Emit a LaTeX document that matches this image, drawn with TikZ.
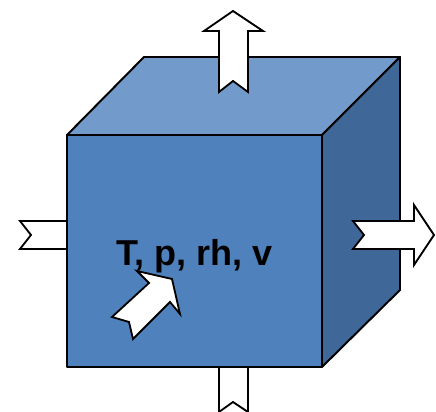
\documentclass[tikz,border=0pt]{standalone}
\usepackage{fontspec}
\setmainfont{Liberation Sans}
\usepackage{xcolor}
\definecolor{cubefront}{HTML}{4F81BD}
\definecolor{cubetop}{HTML}{729ACA}
\definecolor{cubeside}{HTML}{3F6797}
\begin{document}
\begin{tikzpicture}[
  x=0.025cm, y=-0.025cm,
  face/.style={draw, line width=1.4pt, line join=round},
  flow/.style={draw, fill=white, line width=1.3pt, line join=miter}
]
  \useasboundingbox (0, 0) rectangle (436, 412);

  % Arrows behind the cube
  \draw[flow] (20, 221) -- (31, 235) -- (20, 249) -- (80, 249) -- (80, 221) -- cycle;
  \draw[flow] (219, 350) -- (219, 412) -- (233, 402) -- (248, 412) -- (248, 350) -- cycle;

  % Cube
  \draw[face, fill=cubetop] (67, 135) -- (144, 57) -- (400, 57) -- (322, 135) -- cycle;
  \draw[face, fill=cubeside] (322, 135) -- (400, 57) -- (400, 290) -- (322, 367) -- cycle;
  \draw[face, fill=cubefront] (67, 135) rectangle (322, 367);

  % Arrows in front of the cube
  \draw[flow] (233, 11) -- (263, 31) -- (248, 31) -- (248, 92) -- (233, 81)
    -- (219, 92) -- (219, 31) -- (204, 31) -- cycle;
  \draw[flow] (353, 221) -- (414, 221) -- (414, 205) -- (434, 235) -- (414, 265)
    -- (414, 249) -- (353, 249) -- (364, 235) -- cycle;

  % State variables
  \node[font=\fontsize{25.6}{30}\selectfont\bfseries] (state) at (194.5, 256) {T, p, rh, v};

  \draw[flow] (137, 271) -- (172, 279) -- (180, 314) -- (170, 302) -- (133, 339)
    -- (129, 322) -- (112, 317) -- (149, 283) -- cycle;
\end{tikzpicture}
\end{document}
